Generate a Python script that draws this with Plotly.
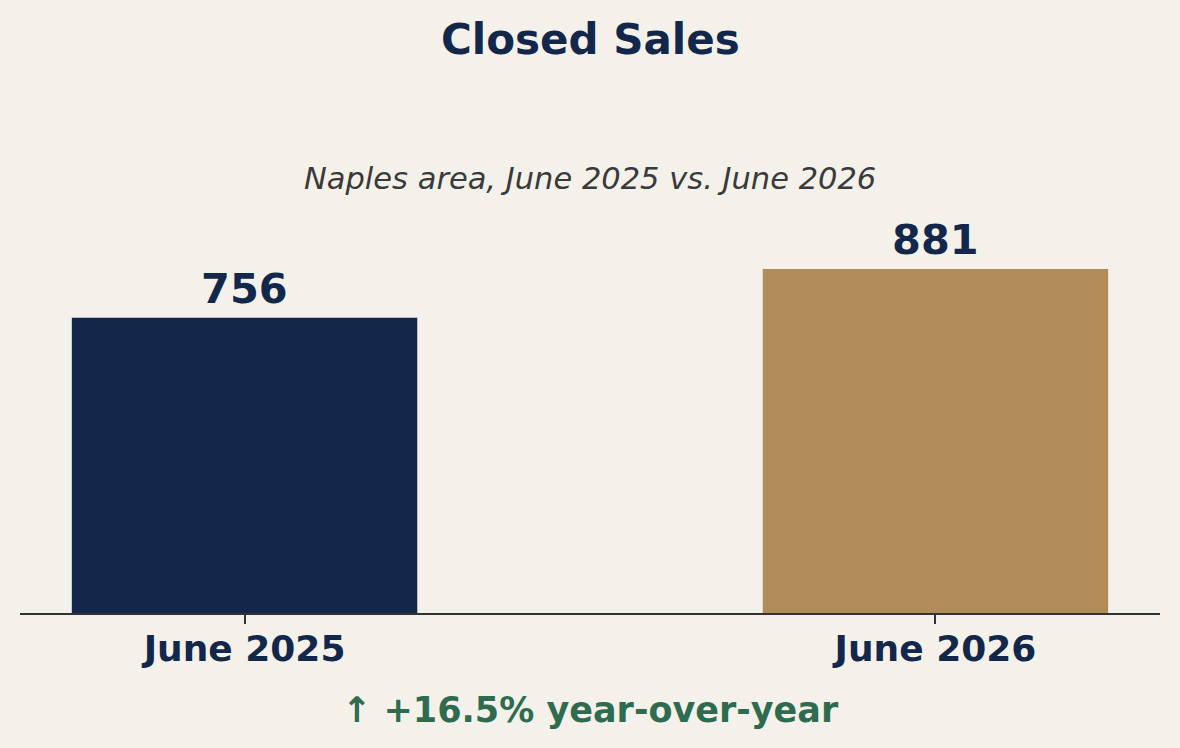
import plotly.graph_objects as go

categories = ["June 2025", "June 2026"]
closed_sales = [756, 881]
bar_colors = ["#13274a", "#b08d58"]
title_text = "Closed Sales"
subtitle_text = "Naples area, June 2025 vs. June 2026"
change_text = "↑ +16.5% year-over-year"

NAVY = "#13274a"
BG = "#f4f1eb"
FONT = "DejaVu Sans"

fig = go.Figure()
fig.add_trace(go.Bar(
    x=categories, y=closed_sales, width=0.5,
    marker=dict(color=bar_colors, line=dict(width=0)),
    hoverinfo="skip",
))

for c, v in zip(categories, closed_sales):
    fig.add_annotation(x=c, y=v, text=f"<b>{v}</b>", showarrow=False,
                       yanchor="bottom", yshift=3,
                       font=dict(family=FONT, size=41.5, color=NAVY))

fig.add_annotation(x=0.5, y=1.1105, xref="paper", yref="paper",
                   text=f"<b>{title_text}</b>", showarrow=False,
                   yanchor="middle", xanchor="center",
                   font=dict(family=FONT, size=42, color=NAVY))
fig.add_annotation(x=0.5, y=0.843, xref="paper", yref="paper",
                   text=f"<i>{subtitle_text}</i>", showarrow=False,
                   yanchor="middle", xanchor="center",
                   font=dict(family=FONT, size=30.5, color="#3a3a3a"))
fig.add_annotation(x=0.5, y=-0.188, xref="paper", yref="paper",
                   text=f"<b>{change_text}</b>", showarrow=False,
                   yanchor="middle", xanchor="center",
                   font=dict(family=FONT, size=35, color="#2e6b4f"))

fig.update_layout(
    width=1180, height=748,
    margin=dict(l=20, r=20, t=97, b=135),
    paper_bgcolor=BG, plot_bgcolor=BG,
    showlegend=False,
    xaxis=dict(
        range=[-0.325, 1.325], showgrid=False, zeroline=False,
        showline=True, linecolor="#333333", linewidth=2,
        ticks="outside", ticklen=9, tickwidth=2, tickcolor="#333333",
        tickfont=dict(family=FONT, size=36, color=NAVY),
        ticklabelstandoff=-6,
    ),
    yaxis=dict(range=[0, 1321.5], visible=False),
)
fig.update_xaxes(tickmode="array", tickvals=categories,
                 ticktext=[f"<b>{c}</b>" for c in categories])

fig.write_html("out.html")
